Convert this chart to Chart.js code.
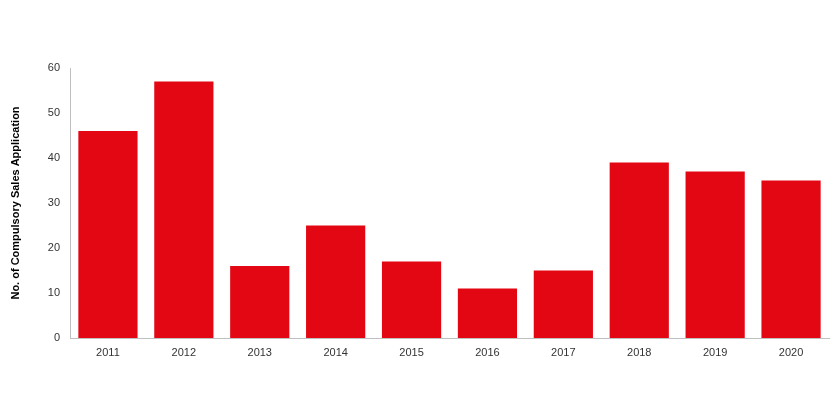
<!DOCTYPE html>
<html lang="en">
  <head>
    <meta charset="UTF-8" />
    <title>Compulsory Sales Application</title>
    <script src="https://cdn.jsdelivr.net/npm/chart.js@4.4.0/dist/chart.umd.min.js"></script>
    <style>
      html, body { margin: 0; padding: 0; background: #fff; }
      #wrap { width: 833px; height: 417px; }
    </style>
  </head>
  <body>
    <div id="wrap"><canvas id="chart"></canvas></div>
    <script>
      const years = ["2011", "2012", "2013", "2014", "2015", "2016", "2017", "2018", "2019", "2020"];
      const applications = [46, 57, 16, 25, 17, 11, 15, 39, 37, 35];
      const yTicks = [0, 10, 20, 30, 40, 50, 60];

      const ctx = document.getElementById("chart").getContext("2d");
      new Chart(ctx, {
        type: "bar",
        data: {
          labels: years,
          datasets: [
            {
              label: "No. of Compulsory Sales Application",
              data: applications,
              backgroundColor: "#e30613",
              categoryPercentage: 0.78,
              barPercentage: 1,
            },
          ],
        },
        options: {
          responsive: true,
          maintainAspectRatio: false,
          animation: false,
          layout: { padding: { top: 68, right: 4, left: 0, bottom: 0 } },
          plugins: { legend: { display: false }, tooltip: { enabled: false } },
          scales: {
            x: {
              grid: { display: false, drawTicks: false },
              border: { color: "#bfbfbf" },
              ticks: { color: "#333", font: { family: "Liberation Sans", size: 11 }, padding: 8 },
              afterFit: (s) => { s.height = 79; },
            },
            y: {
              min: 0,
              max: 60,
              afterBuildTicks: (s) => { s.ticks = yTicks.map((v) => ({ value: v })); },
              grid: { display: false, drawTicks: false },
              border: { color: "#bfbfbf" },
              ticks: { color: "#333", font: { family: "Liberation Sans", size: 11 }, padding: 10 },
              title: {
                display: true,
                text: "No. of Compulsory Sales Application",
                color: "#000",
                font: { family: "Liberation Sans", size: 11, weight: "bold" },
                padding: { top: 9, bottom: 0 },
              },
              afterFit: (s) => { s.width = 70; },
            },
          },
        },
      });
    </script>
  </body>
</html>
